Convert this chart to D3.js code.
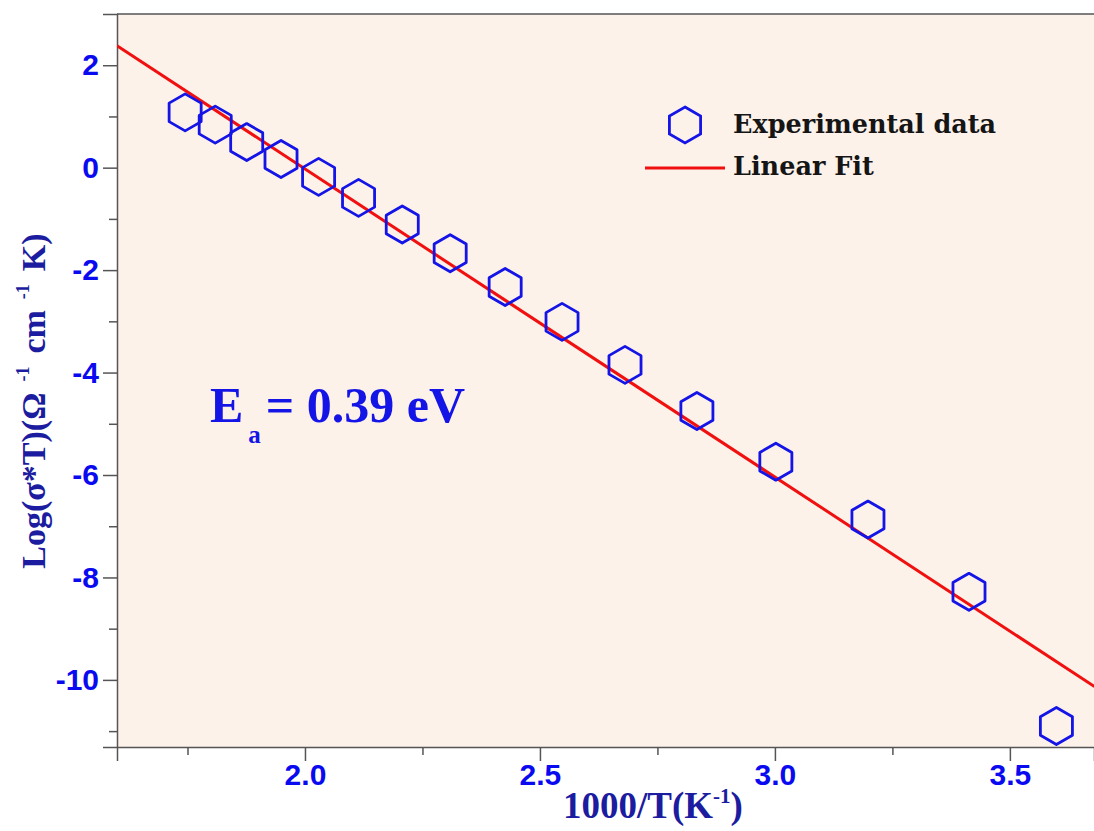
<!DOCTYPE html>
<html>
<head>
<meta charset="utf-8">
<script src="https://cdn.jsdelivr.net/npm/d3@7"></script>
<style>
  body { margin: 0; background: #fff; }
  svg { display: block; }
</style>
</head>
<body>
<div id="chart"></div>
<script>
// 1000/T values (K^-1) and Log(sigma*T)
const invT = [1.745, 1.809, 1.876, 1.949, 2.029, 2.114, 2.207, 2.309, 2.426, 2.547, 2.681, 2.834, 3.002, 3.198, 3.413, 3.599];
const logSigmaT = [1.08, 0.84, 0.50, 0.17, -0.18, -0.59, -1.11, -1.67, -2.33, -3.01, -3.85, -4.75, -5.74, -6.87, -8.28, -10.90];

// linear fit end points
const fitX = [1.6, 3.68];
const fitY = [2.38, -10.13];

const yMajor = [-10, -8, -6, -4, -2, 0, 2];
const yMinor = [-11, -9, -7, -5, -3, -1, 1];
const xMajor = [2.0, 2.5, 3.0, 3.5];
const xMinor = [1.75, 2.25, 2.75, 3.25];

const W = 1094, H = 831;
const margin = { top: 14, right: 0, bottom: 84, left: 117 };

const svg = d3.select("#chart").append("svg")
    .attr("width", W)
    .attr("height", H);

const x = d3.scaleLinear().domain([1.6, 3.679]).range([margin.left, W - margin.right]);
const y = d3.scaleLinear().domain([3, -11.31]).range([margin.top, H - margin.bottom]);

const axisColor = "#555";
const tickBlue = "#0a0af0";
const titleBlue = "#1c1ca0";
const markBlue = "#1414e6";

// plot background
svg.append("rect")
    .attr("x", margin.left)
    .attr("y", margin.top)
    .attr("width", W - margin.left - margin.right)
    .attr("height", H - margin.top - margin.bottom)
    .attr("fill", "#fcf2e9");

// top frame line
svg.append("line")
    .attr("x1", margin.left).attr("x2", W)
    .attr("y1", margin.top).attr("y2", margin.top)
    .attr("stroke", axisColor).attr("stroke-width", 1.5);

// y axis
svg.append("g")
    .attr("transform", `translate(${margin.left},0)`)
    .call(d3.axisLeft(y).tickValues(yMajor).tickSize(14).tickPadding(4).tickFormat(d => String(d)));
svg.append("g")
    .attr("transform", `translate(${margin.left},0)`)
    .call(d3.axisLeft(y).tickValues(yMinor).tickSize(8).tickFormat(""))
    .select(".domain").remove();

// x axis
svg.append("g")
    .attr("transform", `translate(0,${H - margin.bottom})`)
    .call(d3.axisBottom(x).tickValues(xMajor).tickSize(14).tickPadding(3).tickFormat(d3.format(".1f")));
svg.append("g")
    .attr("transform", `translate(0,${H - margin.bottom})`)
    .call(d3.axisBottom(x).tickValues(xMinor).tickSize(8).tickFormat(""))
    .select(".domain").remove();

svg.selectAll(".domain").attr("stroke", axisColor).attr("stroke-width", 1.5);
svg.selectAll(".tick line").attr("stroke", axisColor).attr("stroke-width", 1.5);
svg.selectAll(".tick text")
    .attr("fill", tickBlue)
    .style("font-family", "'Liberation Sans', Arial, sans-serif")
    .style("font-weight", "bold")
    .style("font-size", "30px");

// fit line
svg.append("clipPath").attr("id", "plot-clip")
    .append("rect")
    .attr("x", margin.left).attr("y", margin.top)
    .attr("width", W - margin.left).attr("height", H - margin.top - margin.bottom);

const fitData = fitX.map((v, i) => ({ x: v, y: fitY[i] }));
svg.append("path")
    .datum(fitData)
    .attr("clip-path", "url(#plot-clip)")
    .attr("fill", "none")
    .attr("stroke", "#f01010")
    .attr("stroke-width", 3)
    .attr("d", d3.line().x(d => x(d.x)).y(d => y(d.y)));

// hexagon marker path
function hexagon(r) {
    const pts = d3.range(6).map(i => {
        const a = Math.PI / 3 * i - Math.PI / 2;
        return [r * Math.cos(a), r * Math.sin(a)];
    });
    return d3.line()(pts) + "Z";
}

const points = invT.map((v, i) => ({ x: v, y: logSigmaT[i] }));
svg.append("g")
    .selectAll("path")
    .data(points)
    .join("path")
    .attr("d", hexagon(18.5))
    .attr("transform", d => `translate(${x(d.x)},${y(d.y)})`)
    .attr("fill", "none")
    .attr("stroke", markBlue)
    .attr("stroke-width", 2.8)
    .attr("stroke-linejoin", "round");

// legend
const legend = svg.append("g");
legend.append("path")
    .attr("d", hexagon(18))
    .attr("transform", "translate(685,125)")
    .attr("fill", "none")
    .attr("stroke", markBlue)
    .attr("stroke-width", 2.8);
legend.append("line")
    .attr("x1", 645).attr("x2", 725)
    .attr("y1", 168).attr("y2", 168)
    .attr("stroke", "#f01010").attr("stroke-width", 3);
legend.selectAll("text")
    .data(["Experimental data", "Linear Fit"])
    .join("text")
    .attr("x", 733)
    .attr("y", (d, i) => 133 + i * 42)
    .attr("fill", "#151515")
    .style("font-family", "'DejaVu Serif', serif")
    .style("font-weight", "bold")
    .style("font-size", "25.5px")
    .text(d => d);

// activation energy annotation
const ea = svg.append("text")
    .attr("x", 210).attr("y", 422)
    .attr("fill", markBlue)
    .style("font-family", "'Liberation Serif', serif")
    .style("font-weight", "bold")
    .style("font-size", "50px");
ea.append("tspan").text("E");
ea.append("tspan").attr("dx", 5).attr("dy", 21).style("font-size", "25px").text("a");
ea.append("tspan").attr("dx", 5).attr("dy", -21).text("= 0.39 eV");

// axis titles
const xt = svg.append("text")
    .attr("x", 653).attr("y", 818)
    .attr("text-anchor", "middle")
    .attr("fill", titleBlue)
    .style("font-family", "'Liberation Serif', serif")
    .style("font-weight", "bold")
    .style("font-size", "37px");
xt.append("tspan").text("1000/T(K");
xt.append("tspan").attr("dy", -15).style("font-size", "21px").text("-1");
xt.append("tspan").attr("dy", 15).text(")");

const yt = svg.append("text")
    .attr("transform", "translate(45,401) rotate(-90)")
    .attr("text-anchor", "middle")
    .attr("fill", titleBlue)
    .style("font-family", "'Liberation Serif', serif")
    .style("font-weight", "bold")
    .style("font-size", "34px");
yt.append("tspan").text("Log(σ*T)(Ω");
yt.append("tspan").attr("dx", 11).attr("dy", -16).style("font-size", "18px").text("-1");
yt.append("tspan").attr("dx", 13).attr("dy", 16).text("cm");
yt.append("tspan").attr("dx", 11).attr("dy", -16).style("font-size", "18px").text("-1");
yt.append("tspan").attr("dx", 13).attr("dy", 16).text("K)");
</script>
</body>
</html>
